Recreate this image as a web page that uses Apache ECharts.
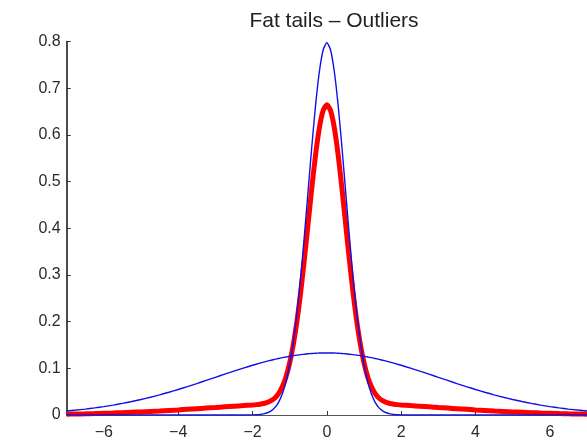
<!DOCTYPE html>
<html>
<head>
<meta charset="utf-8">
<script src="https://cdn.jsdelivr.net/npm/echarts@6/dist/echarts.min.js"></script>
<style>html,body{margin:0;padding:0;background:#fff}#c{width:587px;height:443px}</style>
</head>
<body>
<div id="c"></div>
<script>
const title = "Fat tails – Outliers";
const xTicks = [-6, -4, -2, 0, 2, 4, 6];
const yTicks = [0, 0.1, 0.2, 0.3, 0.4, 0.5, 0.6, 0.7, 0.8];

const xs = [
  -7, -6.75, -6.5, -6.25, -6, -5.75, -5.5, -5.25, -5, -4.75, -4.5, -4.25, -4, -3.75, -3.5, -3.25, -3, -2.75, -2.5, -2.25,
  -2, -1.9, -1.8, -1.7, -1.6, -1.5, -1.4, -1.3, -1.2, -1.1, -1, -0.9, -0.8, -0.7, -0.6, -0.5, -0.4, -0.3, -0.2, -0.1,
  0,
  0.1, 0.2, 0.3, 0.4, 0.5, 0.6, 0.7, 0.8, 0.9, 1, 1.1, 1.2, 1.3, 1.4, 1.5, 1.6, 1.7, 1.8, 1.9, 2,
  2.25, 2.5, 2.75, 3, 3.25, 3.5, 3.75, 4, 4.25, 4.5, 4.75, 5, 5.25, 5.5, 5.75, 6, 6.25, 6.5, 6.75, 7
];

// narrow normal curve (blue, tall peak)
const narrow = [
  0, 0, 0, 0, 0, 0, 0, 0, 0, 0, 0, 0, 0, 0, 0, 0, 0, 0, 0, 0,
  0.0003, 0.0006, 0.0012, 0.0025, 0.0048, 0.0089, 0.0158, 0.0272, 0.0448, 0.0709, 0.1080, 0.1579, 0.2218, 0.2995, 0.3884, 0.4839, 0.5794, 0.6665, 0.7365, 0.7821,
  0.7979,
  0.7821, 0.7365, 0.6665, 0.5794, 0.4839, 0.3884, 0.2995, 0.2218, 0.1579, 0.1080, 0.0709, 0.0448, 0.0272, 0.0158, 0.0089, 0.0048, 0.0025, 0.0012, 0.0006, 0.0003,
  0, 0, 0, 0, 0, 0, 0, 0, 0, 0, 0, 0, 0, 0, 0, 0, 0, 0, 0, 0
];

// wide normal curve (blue, flat)
const wide = [
  0.0087, 0.0106, 0.0127, 0.0152, 0.0180, 0.0212, 0.0248, 0.0288, 0.0332, 0.0380, 0.0432, 0.0488, 0.0547, 0.0609, 0.0673, 0.0740, 0.0807, 0.0874, 0.0940, 0.1004,
  0.1065, 0.1088, 0.1111, 0.1133, 0.1154, 0.1174, 0.1193, 0.1211, 0.1228, 0.1243, 0.1258, 0.1271, 0.1283, 0.1294, 0.1303, 0.1311, 0.1318, 0.1323, 0.1327, 0.1329,
  0.1330,
  0.1329, 0.1327, 0.1323, 0.1318, 0.1311, 0.1303, 0.1294, 0.1283, 0.1271, 0.1258, 0.1243, 0.1228, 0.1211, 0.1193, 0.1174, 0.1154, 0.1133, 0.1111, 0.1088, 0.1065,
  0.1004, 0.0940, 0.0874, 0.0807, 0.0740, 0.0673, 0.0609, 0.0547, 0.0488, 0.0432, 0.0380, 0.0332, 0.0288, 0.0248, 0.0212, 0.0180, 0.0152, 0.0127, 0.0106, 0.0087
];

// fat-tailed mixture (red, thick)
const mixture = [
  0.0017, 0.0021, 0.0025, 0.0030, 0.0036, 0.0042, 0.0050, 0.0058, 0.0066, 0.0076, 0.0086, 0.0098, 0.0109, 0.0122, 0.0135, 0.0148, 0.0161, 0.0175, 0.0188, 0.0201,
  0.0215, 0.0222, 0.0232, 0.0247, 0.0269, 0.0306, 0.0365, 0.0460, 0.0604, 0.0816, 0.1116, 0.1517, 0.2031, 0.2655, 0.3368, 0.4133, 0.4899, 0.5597, 0.6157, 0.6523,
  0.6649,
  0.6523, 0.6157, 0.5597, 0.4899, 0.4133, 0.3368, 0.2655, 0.2031, 0.1517, 0.1116, 0.0816, 0.0604, 0.0460, 0.0365, 0.0306, 0.0269, 0.0247, 0.0232, 0.0222, 0.0215,
  0.0201, 0.0188, 0.0175, 0.0161, 0.0148, 0.0135, 0.0122, 0.0109, 0.0098, 0.0086, 0.0076, 0.0066, 0.0058, 0.0050, 0.0042, 0.0036, 0.0030, 0.0025, 0.0021, 0.0017
];

const pairs = ys => xs.map((x, i) => [x, ys[i]]);
const font = '"Liberation Sans", Arial, Helvetica, sans-serif';

const chart = echarts.init(document.getElementById('c'), null, {renderer: 'canvas'});
chart.setOption({
  animation: false,
  backgroundColor: '#ffffff',
  title: {
    text: title,
    left: 329, textAlign: 'center', top: 6,
    textStyle: {fontFamily: font, fontSize: 21, fontWeight: 'normal', color: '#222'}
  },
  grid: {left: 66.7, right: -5.7, top: 41.6, bottom: 28, containLabel: false},
  xAxis: {
    type: 'value', min: -7, max: 7,
    axisLine: {show: true, onZero: false, lineStyle: {color: '#555', width: 1.2}},
    axisTick: {show: true, inside: true, length: 4, customValues: xTicks, lineStyle: {color: '#333'}},
    axisLabel: {customValues: xTicks, margin: 10, fontFamily: font, fontSize: 16, color: '#2a2a2a',
      formatter: v => (v < 0 ? '\u2212' + Math.abs(v) : String(v))},
    splitLine: {show: false}
  },
  yAxis: {
    type: 'value', min: 0, max: 0.8, interval: 0.1,
    axisLine: {show: true, onZero: false, lineStyle: {color: '#111', width: 1.5}},
    axisTick: {show: true, inside: true, length: 4, lineStyle: {color: '#333'}},
    axisLabel: {customValues: yTicks, margin: 6, fontFamily: font, fontSize: 16, color: '#2a2a2a',
      formatter: v => String(+v.toFixed(1))},
    splitLine: {show: false}
  },
  series: [
    {type: 'line', name: 'mixture', data: pairs(mixture), showSymbol: false, clip: false,
      smooth: 0.2,
      lineStyle: {color: '#ff0000', width: 5}, z: 2},
    {type: 'line', name: 'wide', data: pairs(wide), showSymbol: false,
      smooth: 0.2,
      lineStyle: {color: '#1010e8', width: 1.4}, z: 3},
    {type: 'line', name: 'narrow', data: pairs(narrow), showSymbol: false,
      smooth: 0.2,
      lineStyle: {color: '#1010e8', width: 1.4}, z: 3}
  ]
});
</script>
</body>
</html>
